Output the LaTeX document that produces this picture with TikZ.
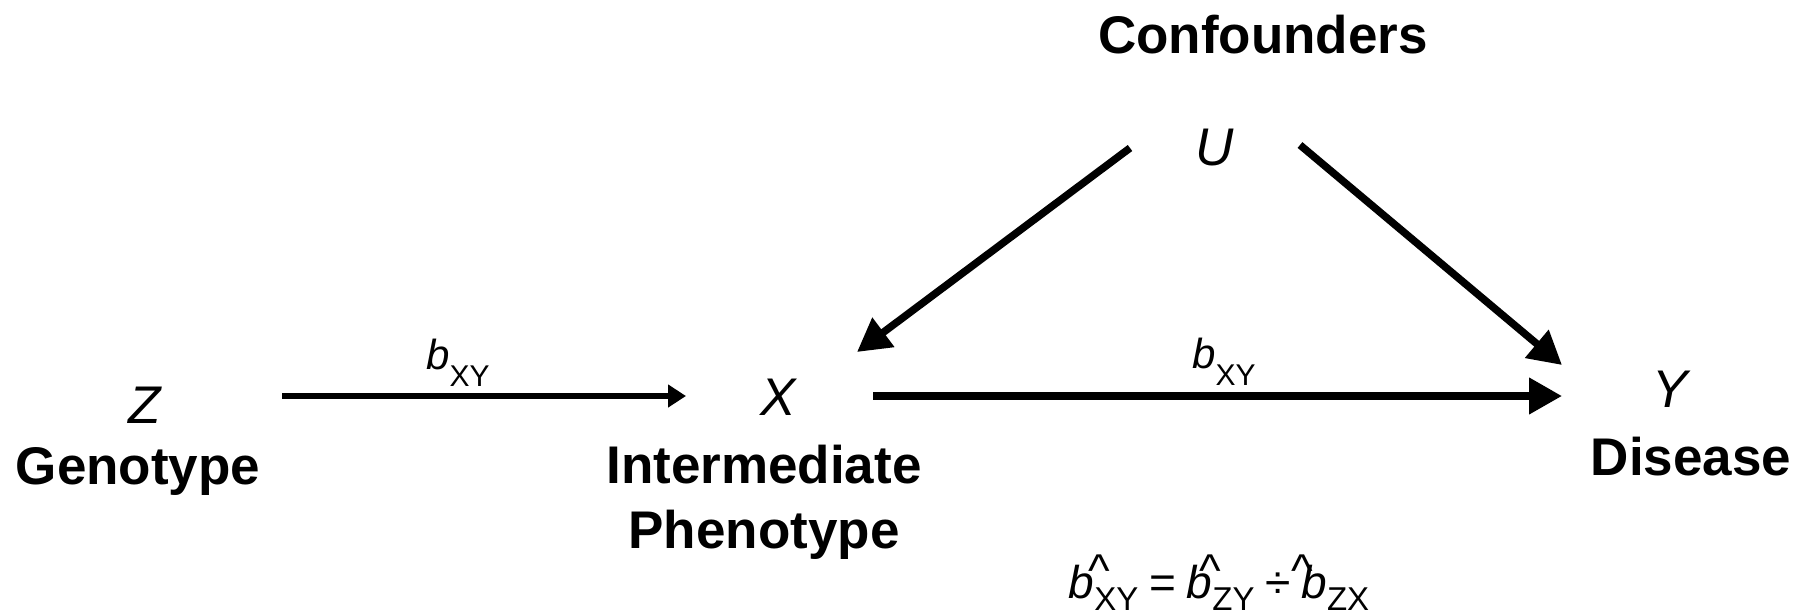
\documentclass[tikz,border=0pt]{standalone}
\usepackage{fontspec}
\setmainfont{Liberation Sans}
\usetikzlibrary{arrows.meta}
\newcommand\lsub[1]{\raisebox{-17pt}{\fontsize{30}{30}\selectfont #1}}
\newcommand\fsub[1]{\raisebox{-12pt}{\fontsize{33}{33}\selectfont #1}}
\newcommand\hb[1]{\rlap{\kern#1\raisebox{12pt}{\fontsize{46}{46}\selectfont\textasciicircum}}{\itshape b}}
\tikzset{
  lab/.style={inner sep=0pt, anchor=base, font=\bfseries\fontsize{53}{60}\selectfont},
  var/.style={inner sep=0pt, anchor=base, font=\itshape\fontsize{53}{60}\selectfont},
  coef/.style={inner sep=0pt, anchor=base, font=\fontsize{42}{42}\selectfont},
  thinarrow/.style={line width=6pt, -{Triangle[length=18pt,width=22pt]}},
  thickarrow/.style={line width=7.5pt, -{Triangle[length=33pt,width=35pt]}},
}
\begin{document}
\begin{tikzpicture}[x=1pt,y=-1pt]
\useasboundingbox (0,0) rectangle (1808,614);
% labels
\node[lab] (conf) at (1263,53) {Confounders};
\node[var] (U) at (1215,165) {U};
\node[var] (Z) at (145,423) {Z};
\node[lab] (gen) at (138,484) {Genotype};
\node[var] (X) at (778,415) {X};
\node[lab, align=center, font=\bfseries\fontsize{53}{65}\selectfont] (inter) at (764,548) {Intermediate\\Phenotype};
\node[var] (Y) at (1670,407) {Y};
\node[lab] (dis) at (1691,475) {Disease};
\node[coef] (bzx) at (458,369) {{\itshape b}\lsub{XY}};
\node[coef] (bxy) at (1224,368) {{\itshape b}\lsub{XY}};
\node[inner sep=0pt, anchor=base, font=\fontsize{46}{46}\selectfont] (eq) at (1219,598)
  {\hb{20pt}\fsub{XY}\kern-2pt\ =\ \kern-2pt\hb{13pt}\fsub{ZY}\kern-2pt\ ÷\ \kern-2pt\hb{-10pt}\fsub{ZX}};
% connector endpoints
\coordinate (Zout) at (282,396);
\coordinate (Xin) at (686,396);
\coordinate (Xout) at (873,396);
\coordinate (Yin) at (1562,396);
\coordinate (UoutL) at (1130,148);
\coordinate (XinU) at (857,352);
\coordinate (UoutR) at (1300,145);
\coordinate (YinU) at (1562,365);
% connectors
\draw[thinarrow] (Zout) -- (Xin);
\draw[thickarrow] (Xout) -- (Yin);
\draw[thickarrow] (UoutL) -- (XinU);
\draw[thickarrow] (UoutR) -- (YinU);
\end{tikzpicture}
\end{document}
